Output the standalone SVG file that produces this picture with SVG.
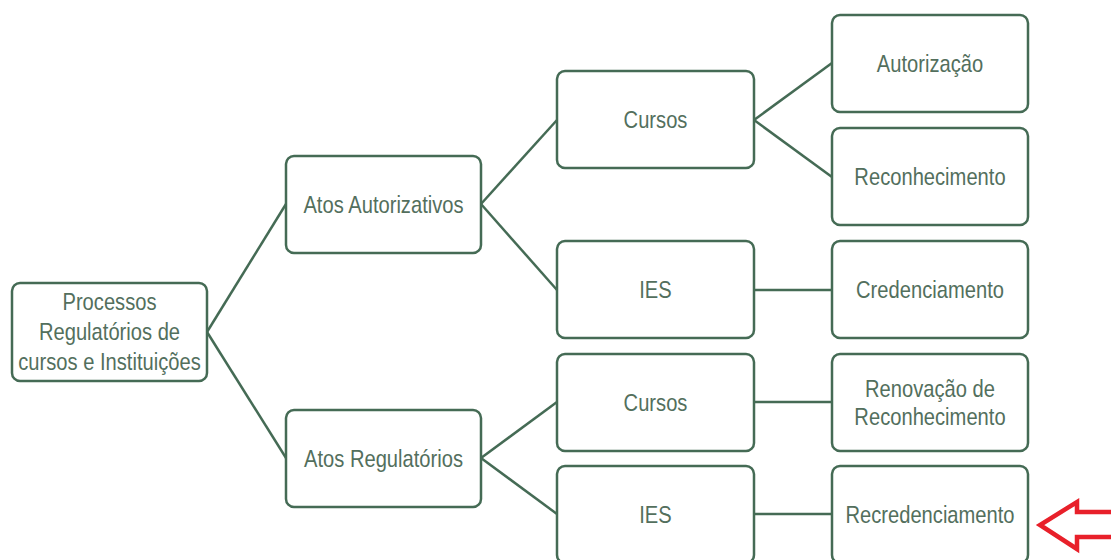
<svg xmlns="http://www.w3.org/2000/svg" width="1111" height="560" viewBox="0 0 1111 560">
<style>
.box{fill:#ffffff;stroke:#456b55;stroke-width:2.5}
.lbl{font-family:"Liberation Sans",Arial,sans-serif;font-size:24px;fill:#536f5d;text-anchor:middle}
.con{stroke:#456b55;stroke-width:2.5;fill:none}
</style>
<rect width="1111" height="560" fill="#ffffff"/>
<g id="connectors">
<line class="con" x1="207" y1="332" x2="286" y2="204"/>
<line class="con" x1="207" y1="332" x2="286" y2="458"/>
<line class="con" x1="481" y1="204" x2="557" y2="120"/>
<line class="con" x1="481" y1="204" x2="557" y2="290"/>
<line class="con" x1="481" y1="458" x2="557" y2="402"/>
<line class="con" x1="481" y1="458" x2="557" y2="514"/>
<line class="con" x1="754" y1="120" x2="832" y2="63"/>
<line class="con" x1="754" y1="120" x2="832" y2="177"/>
<line class="con" x1="754" y1="290" x2="832" y2="290"/>
<line class="con" x1="754" y1="402" x2="832" y2="402"/>
<line class="con" x1="754" y1="514" x2="832" y2="514"/>
</g>
<g id="root"><rect class="box" x="12" y="283" width="195" height="98" rx="8"/>
<text class="lbl" transform="translate(109.5 310) scale(0.84 1)"><tspan x="0" y="0">Processos</tspan><tspan x="0" y="30">Regulatórios de</tspan><tspan x="0" y="60">cursos e Instituições</tspan></text></g>
<g id="atos-autorizativos"><rect class="box" x="286" y="156" width="195" height="97" rx="8"/><text class="lbl" transform="translate(383.5 213) scale(0.84 1)">Atos Autorizativos</text></g>
<g id="atos-regulatorios"><rect class="box" x="286" y="410" width="195" height="97" rx="8"/><text class="lbl" transform="translate(383.5 467) scale(0.84 1)">Atos Regulatórios</text></g>
<g id="cursos-1"><rect class="box" x="557" y="71" width="197" height="97" rx="8"/><text class="lbl" transform="translate(655.5 128) scale(0.84 1)">Cursos</text></g>
<g id="ies-1"><rect class="box" x="557" y="241" width="197" height="97" rx="8"/><text class="lbl" transform="translate(655.5 298) scale(0.84 1)">IES</text></g>
<g id="cursos-2"><rect class="box" x="557" y="354" width="197" height="97" rx="8"/><text class="lbl" transform="translate(655.5 411) scale(0.84 1)">Cursos</text></g>
<g id="ies-2"><rect class="box" x="557" y="466" width="197" height="97" rx="8"/><text class="lbl" transform="translate(655.5 523) scale(0.84 1)">IES</text></g>
<g id="autorizacao"><rect class="box" x="832" y="15" width="196" height="97" rx="8"/><text class="lbl" transform="translate(930 72) scale(0.84 1)">Autorização</text></g>
<g id="reconhecimento"><rect class="box" x="832" y="128" width="196" height="97" rx="8"/><text class="lbl" transform="translate(930 185) scale(0.84 1)">Reconhecimento</text></g>
<g id="credenciamento"><rect class="box" x="832" y="241" width="196" height="97" rx="8"/><text class="lbl" transform="translate(930 298) scale(0.84 1)">Credenciamento</text></g>
<g id="renovacao"><rect class="box" x="832" y="354" width="196" height="97" rx="8"/><text class="lbl" transform="translate(930 397) scale(0.84 1)"><tspan x="0" y="0">Renovação de</tspan><tspan x="0" y="28">Reconhecimento</tspan></text></g>
<g id="recredenciamento"><rect class="box" x="832" y="466" width="196" height="97" rx="8"/><text class="lbl" transform="translate(930 523) scale(0.84 1)">Recredenciamento</text></g>
<g id="red-arrow"><path d="M1115 512 L1077 512 L1077 502 L1040 525 L1077 549 L1077 537 L1115 537" fill="none" stroke="#e8202a" stroke-width="4.5" stroke-linejoin="miter"/></g>
</svg>
